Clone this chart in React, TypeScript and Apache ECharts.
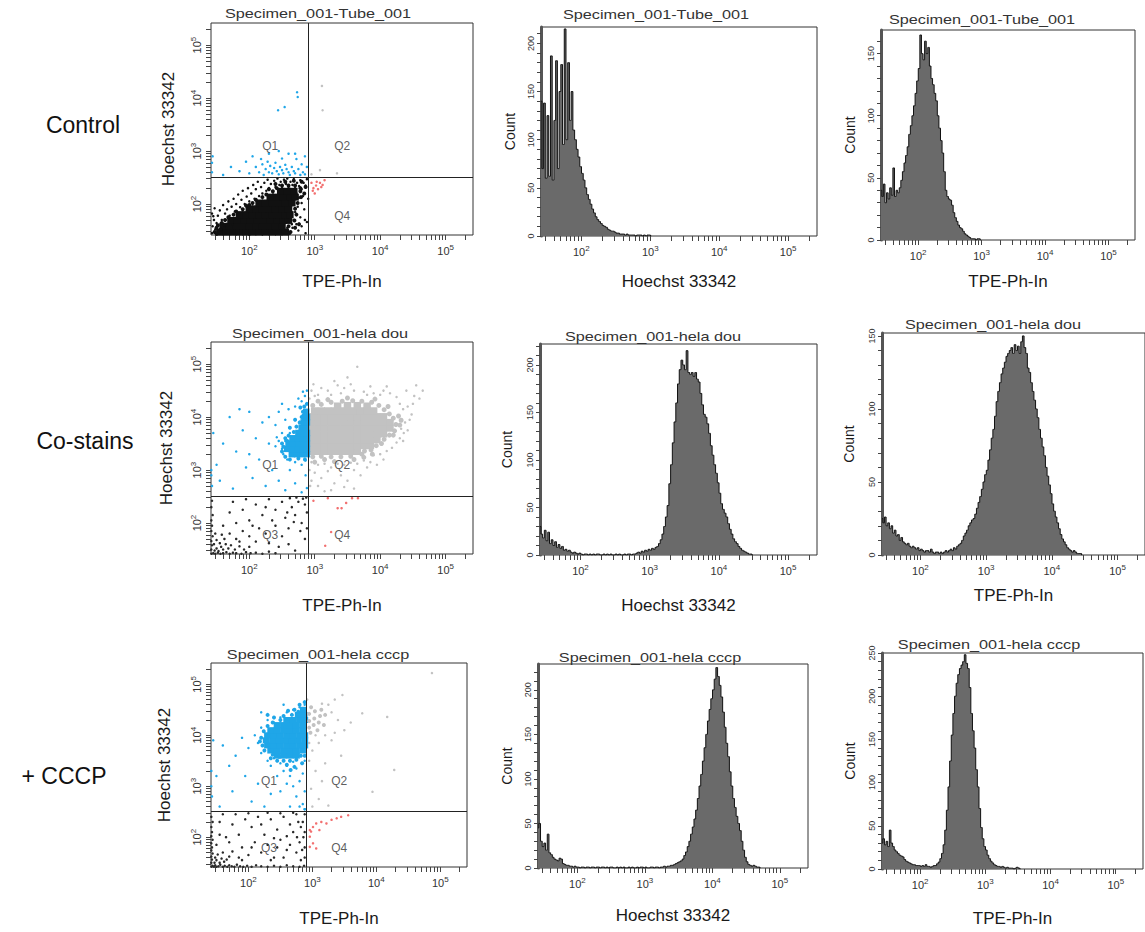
import React, { useEffect, useRef } from 'react';
import * as echarts from 'echarts';

// ---------- axis range (log10 units, FACS 26 .. 262143) ----------
const LOG_MIN = 1.415;
const LOG_MAX = 5.418;
const DECADES = [2, 3, 4, 5];
const MULTS = [1, 2, 3, 4, 5, 6, 7, 8, 9];
const GATE_X = 2.9;
const GATE_Y = 2.51;

const ROW_LABELS = ['Control', 'Co-stains', '+ CCCP'];
const SPECIMENS = ['Specimen_001-Tube_001', 'Specimen_001-hela dou', 'Specimen_001-hela cccp'];
const X_NAMES = ['TPE-Ph-In', 'Hoechst 33342', 'TPE-Ph-In'];
const QUAD_NAMES = ['Q1', 'Q2', 'Q3', 'Q4'];
const QUAD_POS: Record<string, number[]> = { Q1: [2.32, 3.1], Q2: [3.42, 3.1], Q3: [2.32, 1.78], Q4: [3.42, 1.78] };

// ---------- histograms: counts per bin, bins start at log 1.415, width 0.025 decade ----------
const BIN_START = 1.415;
const BIN_STEP = 0.025;

const H_CTRL_HOECHST = [
  140, 70, 138, 60, 125, 62, 187, 58, 120, 182, 70, 150, 178, 95, 215, 100, 180, 120, 150, 110,
  100, 90, 82, 72, 65, 58, 50, 43, 38, 33, 28, 24, 20, 17, 15, 13, 11, 10, 9, 7,
  6, 5, 5, 4, 3, 3, 2, 2, 2, 1, 2, 1, 1, 1, 1, 0, 1, 1, 1, 0, 1, 0, 1, 1, 0,
];
const H_CTRL_TPE = [
  40, 35, 45, 30, 38, 33, 42, 36, 58, 35, 40, 38, 42, 48, 55, 62, 68, 75, 85, 92,
  100, 108, 118, 128, 138, 165, 150, 145, 160, 150, 155, 140, 130, 125, 118, 112, 100, 90, 80, 70,
  55, 40, 35, 33, 32, 28, 22, 18, 15, 12, 10, 9, 7, 5, 4, 3, 2, 1, 1, 1, 0, 1, 1, 0,
];
const H_COSTAIN_HOECHST = [
  30, 22, 18, 26, 15, 24, 12, 16, 10, 14, 8, 11, 7, 9, 5, 6, 4, 5, 3, 2,
  3, 2, 1, 2, 1, 0, 1, 1, 0, 1, 0, 1, 0, 1, 1, 0, 0, 1, 0, 1,
  0, 1, 0, 0, 1, 0, 1, 0, 0, 1, 0, 1, 1, 0, 1, 1, 2, 3, 2, 4,
  3, 5, 4, 6, 5, 7, 6, 8, 9, 12, 16, 22, 30, 40, 52, 75, 95, 118, 140, 160,
  180, 195, 205, 200, 195, 215, 192, 190, 192, 188, 192, 185, 182, 170, 158, 148, 145, 138, 128, 115,
  105, 95, 86, 76, 65, 54, 48, 44, 40, 33, 27, 22, 17, 14, 12, 9, 7, 5, 4, 3, 2, 1, 1, 0,
];
const H_COSTAIN_TPE = [
  25, 22, 26, 20, 22, 18, 20, 15, 17, 13, 14, 10, 12, 9, 8, 7, 8, 6, 5, 6,
  5, 4, 5, 3, 4, 3, 2, 3, 3, 2, 4, 2, 1, 2, 2, 1, 2, 1, 2, 3,
  2, 3, 4, 3, 5, 4, 6, 7, 8, 10, 13, 15, 17, 20, 22, 24, 25, 28, 32, 36,
  40, 45, 50, 55, 58, 65, 72, 80, 86, 95, 105, 112, 118, 124, 128, 132, 136, 138, 140, 142,
  138, 144, 140, 143, 138, 146, 150, 142, 138, 128, 125, 118, 112, 106, 100, 94, 86, 80, 74, 68,
  60, 54, 48, 42, 35, 30, 26, 22, 18, 14, 11, 9, 7, 5, 4, 3, 2, 3, 2, 1, 1, 1, 0,
];
const H_CCCP_HOECHST = [
  45, 50, 30, 24, 28, 20, 38, 17, 15, 12, 10, 9, 8, 11, 10, 5, 4, 3, 3, 2,
  2, 1, 2, 1, 1, 0, 1, 1, 0, 1, 1, 0, 1, 1, 0, 1, 1, 0, 1, 1,
  0, 1, 0, 1, 1, 0, 0, 1, 0, 1, 0, 1, 0, 0, 1, 0, 1, 0, 0, 1,
  0, 1, 1, 0, 1, 0, 0, 1, 1, 0, 1, 1, 0, 1, 1, 2, 1, 2, 2, 3,
  3, 4, 5, 6, 7, 8, 10, 14, 18, 24, 30, 38, 46, 55, 65, 78, 92, 105, 120, 135,
  150, 165, 178, 190, 200, 212, 225, 215, 205, 192, 175, 158, 140, 125, 108, 92, 78, 68, 58, 50,
  42, 30, 20, 12, 7, 4, 3, 2, 3, 2, 1, 1, 0,
];
const H_CCCP_TPE = [
  30, 35, 28, 32, 26, 45, 30, 26, 22, 20, 18, 16, 15, 14, 11, 9, 8, 7, 6, 5,
  5, 4, 4, 4, 3, 4, 3, 5, 3, 3, 2, 3, 4, 4, 6, 8, 12, 18, 28, 45,
  68, 95, 125, 155, 180, 200, 215, 225, 232, 236, 240, 248, 238, 232, 210, 180, 160, 140, 115, 95,
  70, 48, 35, 26, 22, 16, 12, 9, 7, 5, 4, 3, 3, 2, 3, 2, 1, 2, 1, 1, 1, 0, 1, 2, 1, 0,
];

// ---------- dot plots: [log10 TPE-Ph-In, log10 Hoechst 33342] ----------
const CTRL_BLACK_CORE = [
  [1.55, 1.47], [1.65, 1.47], [1.75, 1.47], [1.85, 1.47], [1.95, 1.47], [2.05, 1.47], [2.15, 1.47], [2.25, 1.47], [2.35, 1.47], [2.45, 1.47], [2.55, 1.47],
  [1.6, 1.58], [1.7, 1.58], [1.8, 1.58], [1.9, 1.58], [2.0, 1.58], [2.1, 1.58], [2.2, 1.58], [2.3, 1.58], [2.4, 1.58], [2.5, 1.58],
  [1.72, 1.69], [1.82, 1.69], [1.92, 1.69], [2.02, 1.69], [2.12, 1.69], [2.22, 1.69], [2.32, 1.69], [2.42, 1.69], [2.52, 1.69], [2.6, 1.69],
  [1.85, 1.8], [1.95, 1.8], [2.05, 1.8], [2.15, 1.8], [2.25, 1.8], [2.35, 1.8], [2.45, 1.8], [2.55, 1.8], [2.62, 1.8],
  [2.0, 1.91], [2.1, 1.91], [2.2, 1.91], [2.3, 1.91], [2.4, 1.91], [2.5, 1.91], [2.6, 1.91],
  [2.15, 2.02], [2.25, 2.02], [2.35, 2.02], [2.45, 2.02], [2.55, 2.02], [2.65, 2.02],
  [2.32, 2.13], [2.42, 2.13], [2.52, 2.13], [2.62, 2.13], [2.7, 2.13],
  [2.48, 2.24], [2.58, 2.24], [2.68, 2.24],
];
const CTRL_BLACK_HALO = [
  [1.47, 1.47], [1.5, 1.55], [1.52, 1.6], [1.58, 1.64], [1.63, 1.7], [1.68, 1.75], [1.76, 1.8], [1.8, 1.86], [1.9, 1.9], [1.95, 1.97],
  [2.05, 2.02], [2.1, 2.08], [2.2, 2.13], [2.26, 2.18], [2.36, 2.24], [2.42, 2.3], [2.5, 2.35], [2.6, 2.35], [2.7, 2.35], [2.78, 2.3],
  [2.55, 2.42], [2.68, 2.44], [2.8, 2.42], [2.63, 1.47], [2.6, 1.58], [2.69, 1.69], [2.72, 1.8], [2.7, 1.91], [2.74, 2.02], [2.79, 2.13],
  [2.78, 2.24], [2.7, 1.55], [2.76, 1.62], [2.84, 2.2], [2.86, 2.32], [1.5, 1.44], [1.56, 1.52], [2.4, 2.38], [2.3, 2.28], [2.0, 1.98],
];
const CTRL_BLACK = [
  [1.43, 1.45], [1.44, 1.58], [1.46, 1.7], [1.43, 1.82], [1.48, 1.52], [1.5, 1.64], [1.52, 1.78], [1.47, 1.92], [1.55, 1.88], [1.58, 1.7],
  [1.6, 1.98], [1.63, 1.82], [1.66, 1.9], [1.68, 2.05], [1.7, 1.78], [1.73, 1.95], [1.76, 2.1], [1.78, 1.86], [1.8, 2.0], [1.83, 2.18],
  [1.86, 1.94], [1.88, 2.08], [1.9, 2.25], [1.93, 2.0], [1.96, 2.14], [1.98, 2.3], [2.0, 2.05], [2.03, 2.2], [2.06, 2.36], [2.08, 2.1],
  [2.1, 2.28], [2.13, 2.42], [2.15, 2.15], [2.18, 2.32], [2.2, 2.2], [2.23, 2.4], [2.26, 2.25], [2.28, 2.46], [2.3, 2.3], [2.33, 2.38],
  [2.36, 2.22], [2.38, 2.44], [2.4, 2.32], [2.43, 2.48], [2.46, 2.36], [2.48, 2.42], [2.5, 2.3], [2.53, 2.46], [2.56, 2.38], [2.58, 2.48],
  [2.6, 2.32], [2.63, 2.42], [2.66, 2.36], [2.68, 2.47], [2.7, 2.3], [2.73, 2.4], [2.76, 2.34], [2.78, 2.45], [2.8, 2.28], [2.83, 2.4],
  [2.86, 2.35], [2.88, 2.47], [2.72, 2.2], [2.76, 2.12], [2.8, 2.02], [2.74, 1.95], [2.7, 1.85], [2.78, 1.75], [2.68, 1.7], [2.72, 1.62],
  [2.66, 1.55], [2.75, 1.5], [2.62, 1.44], [2.8, 1.58], [2.86, 1.45], [2.88, 1.66], [2.84, 1.9], [2.82, 2.15], [2.65, 1.62], [2.58, 1.55],
  [1.5, 1.43], [1.62, 1.6], [1.57, 1.52], [1.45, 1.77], [1.74, 1.62], [2.0, 1.42], [2.2, 1.43], [2.6, 1.43], [2.9, 2.1], [2.85, 1.7],
];
const CTRL_BLUE = [
  [1.43, 2.6], [1.43, 2.78], [1.44, 2.9], [1.6, 2.55], [1.72, 2.7], [1.85, 2.62], [1.95, 2.8], [2.0, 2.58], [2.05, 2.9], [2.1, 2.7],
  [2.15, 2.6], [2.18, 2.85], [2.2, 2.75], [2.22, 2.55], [2.25, 2.66], [2.28, 2.8], [2.3, 2.6], [2.32, 2.72], [2.35, 2.58], [2.38, 2.68],
  [2.4, 2.78], [2.42, 2.62], [2.45, 2.56], [2.47, 2.7], [2.5, 2.64], [2.52, 2.58], [2.55, 2.74], [2.57, 2.66], [2.6, 2.6], [2.62, 2.55],
  [2.65, 2.7], [2.68, 2.62], [2.7, 2.58], [2.72, 2.85], [2.75, 2.66], [2.78, 2.55], [2.8, 2.75], [2.82, 2.6], [2.85, 2.56], [2.6, 2.95],
  [2.45, 3.0], [2.3, 2.95], [2.85, 2.9], [2.7, 2.95], [2.54, 3.83], [2.44, 3.77], [2.73, 4.11], [2.74, 4.02], [2.88, 2.7], [2.5, 2.86],
];
const CTRL_RED = [
  [2.95, 2.4], [2.98, 2.3], [3.0, 2.2], [3.02, 2.35], [3.05, 2.28], [3.08, 2.4], [3.1, 2.32], [3.15, 2.45], [2.97, 2.25], [3.03, 2.42], [3.12, 2.36],
];
const CTRL_GRAY = [[3.11, 4.23], [3.12, 3.77], [3.08, 2.64], [3.34, 2.58], [2.95, 2.56]];

const COSTAIN_GRAY_CORE = [
  [2.95, 3.35], [3.05, 3.35], [3.15, 3.35], [3.25, 3.35], [3.35, 3.35], [3.45, 3.35], [3.55, 3.35], [3.65, 3.35],
  [2.95, 3.46], [3.05, 3.46], [3.15, 3.46], [3.25, 3.46], [3.35, 3.46], [3.45, 3.46], [3.55, 3.46], [3.65, 3.46], [3.75, 3.46], [3.85, 3.46],
  [2.95, 3.57], [3.05, 3.57], [3.15, 3.57], [3.25, 3.57], [3.35, 3.57], [3.45, 3.57], [3.55, 3.57], [3.65, 3.57], [3.75, 3.57], [3.85, 3.57], [3.95, 3.57],
  [2.95, 3.68], [3.05, 3.68], [3.15, 3.68], [3.25, 3.68], [3.35, 3.68], [3.45, 3.68], [3.55, 3.68], [3.65, 3.68], [3.75, 3.68], [3.85, 3.68], [3.95, 3.68], [4.05, 3.68],
  [2.95, 3.79], [3.05, 3.79], [3.15, 3.79], [3.25, 3.79], [3.35, 3.79], [3.45, 3.79], [3.55, 3.79], [3.65, 3.79], [3.75, 3.79], [3.85, 3.79], [3.95, 3.79], [4.05, 3.79], [4.15, 3.79],
  [2.95, 3.9], [3.05, 3.9], [3.15, 3.9], [3.25, 3.9], [3.35, 3.9], [3.45, 3.9], [3.55, 3.9], [3.65, 3.9], [3.75, 3.9], [3.85, 3.9], [3.95, 3.9], [4.05, 3.9], [4.15, 3.9],
  [2.95, 4.01], [3.05, 4.01], [3.15, 4.01], [3.25, 4.01], [3.35, 4.01], [3.45, 4.01], [3.55, 4.01], [3.65, 4.01], [3.75, 4.01], [3.85, 4.01], [3.95, 4.01], [4.05, 4.01],
  [3.0, 4.12], [3.1, 4.12], [3.2, 4.12], [3.3, 4.12], [3.4, 4.12], [3.5, 4.12], [3.6, 4.12], [3.7, 4.12], [3.8, 4.12], [3.9, 4.12],
  [3.35, 4.21], [3.5, 4.22], [3.65, 4.22], [3.8, 4.21],
];
const COSTAIN_GRAY_HALO = [
  [2.97, 4.22], [3.1, 4.24], [3.25, 4.28], [3.42, 4.3], [3.58, 4.31], [3.72, 4.3], [3.87, 4.28], [3.98, 4.22], [4.06, 4.14], [4.14, 4.06],
  [4.2, 3.98], [4.24, 3.86], [4.22, 3.74], [4.14, 3.66], [4.06, 3.58], [4.02, 3.5], [3.94, 3.46], [3.86, 3.38], [3.76, 3.36], [3.72, 3.3],
  [3.55, 3.26], [3.4, 3.25], [3.25, 3.25], [3.1, 3.26], [2.97, 3.25], [3.0, 3.15], [3.3, 3.16], [3.6, 3.2], [3.88, 3.3], [4.3, 3.85],
  [4.28, 4.02], [3.5, 4.36], [3.2, 4.33], [3.05, 4.3], [4.32, 3.94], [3.92, 4.34], [3.15, 3.2], [3.75, 3.24], [4.2, 3.66], [4.12, 4.2],
];
const COSTAIN_GRAY = [
  [3.05, 4.42], [3.2, 4.5], [3.35, 4.6], [3.5, 4.75], [3.65, 4.95], [3.4, 4.45], [3.6, 4.5], [3.8, 4.42], [3.1, 4.55], [3.25, 4.42],
  [3.9, 4.45], [4.0, 4.42], [4.15, 4.45], [4.25, 4.38], [4.4, 4.5], [4.55, 4.6], [3.0, 4.4], [3.45, 4.55], [3.75, 4.48], [4.05, 4.5],
  [4.3, 4.25], [4.35, 4.15], [4.38, 3.9], [4.32, 3.78], [4.42, 4.2], [4.45, 3.95], [4.3, 3.6], [4.36, 3.7], [4.25, 3.52], [4.18, 3.42],
  [4.5, 4.25], [4.6, 4.35], [4.1, 3.36], [4.0, 3.3], [3.9, 3.28],
  [2.95, 3.15], [3.05, 3.1], [3.15, 3.12], [3.25, 3.05], [3.35, 3.12], [3.45, 3.1], [3.55, 3.14], [3.65, 3.12], [3.75, 3.18], [3.85, 3.15],
  [3.0, 2.95], [3.1, 2.85], [3.2, 2.98], [3.3, 2.75], [3.4, 2.9], [3.5, 2.8], [3.6, 3.0], [3.7, 2.9], [3.8, 3.05], [3.95, 3.1],
  [3.05, 2.7], [3.25, 2.62], [3.45, 2.68], [3.15, 2.6], [2.95, 2.8], [3.6, 2.65], [4.05, 3.2],
  [2.92, 3.0], [2.93, 2.7], [2.92, 4.35], [2.95, 4.5],
  [4.48, 4.05], [4.52, 4.4], [4.42, 3.75], [4.35, 3.55], [3.3, 4.68], [3.55, 4.62], [3.85, 4.58], [4.1, 4.58], [2.98, 4.62], [4.65, 4.5],
];
const COSTAIN_BLUE_CORE = [
  [2.65, 3.3], [2.73, 3.3], [2.81, 3.3], [2.88, 3.3],
  [2.58, 3.4], [2.66, 3.4], [2.74, 3.4], [2.82, 3.4], [2.88, 3.4],
  [2.6, 3.5], [2.68, 3.5], [2.76, 3.5], [2.84, 3.5], [2.88, 3.5],
  [2.66, 3.6], [2.74, 3.6], [2.82, 3.6], [2.88, 3.6],
  [2.75, 3.7], [2.82, 3.7], [2.88, 3.7],
  [2.8, 3.8], [2.87, 3.8], [2.83, 3.9], [2.88, 3.9], [2.85, 4.0], [2.88, 4.0], [2.87, 4.1],
];
const COSTAIN_BLUE_HALO = [
  [2.55, 3.25], [2.62, 3.2], [2.75, 3.22], [2.85, 3.2], [2.5, 3.35], [2.5, 3.5], [2.55, 3.6], [2.6, 3.65], [2.68, 3.72], [2.72, 3.82],
  [2.77, 3.9], [2.8, 4.0], [2.82, 4.1], [2.84, 4.2], [2.88, 4.25], [2.78, 4.18], [2.7, 3.95], [2.62, 3.8], [2.52, 3.44], [2.58, 3.55],
];
const COSTAIN_BLUE = [
  [2.7, 4.2], [2.8, 4.3], [2.85, 4.4], [2.75, 4.35], [2.6, 4.15], [2.5, 4.25], [2.45, 4.1], [2.88, 4.5], [2.82, 4.48], [2.55, 3.95],
  [2.5, 3.7], [2.45, 3.55], [2.4, 3.45], [2.52, 3.3], [2.58, 3.2], [2.7, 3.15], [2.8, 3.1], [2.86, 3.18], [2.5, 3.4], [2.42, 3.62],
  [2.3, 3.5], [2.2, 3.9], [2.1, 3.6], [2.0, 4.1], [1.9, 3.75], [1.8, 3.35], [1.7, 4.0], [1.6, 3.5], [1.5, 3.1], [1.45, 3.7],
  [1.42, 2.9], [1.42, 3.0], [1.43, 2.7], [1.55, 2.8], [1.75, 2.65], [1.95, 3.05], [2.05, 2.85], [2.15, 3.2], [2.25, 2.7], [2.35, 3.0],
  [2.45, 2.8], [2.55, 2.62], [2.62, 3.0], [2.7, 2.75], [2.8, 2.58], [2.86, 2.9], [2.88, 2.66], [2.3, 4.0], [2.0, 3.3], [1.85, 4.15],
  [2.62, 3.7], [2.4, 3.85], [2.55, 3.55],
];
const COSTAIN_BLACK = [
  [1.42, 1.42], [1.45, 1.43], [1.48, 1.42], [1.52, 1.44], [1.56, 1.42], [1.6, 1.43], [1.65, 1.45], [1.7, 1.42], [1.75, 1.44], [1.8, 1.43],
  [1.88, 1.42], [1.95, 1.45], [2.02, 1.43], [2.1, 1.44], [2.2, 1.42], [2.3, 1.46], [2.4, 1.43],
  [1.42, 1.5], [1.43, 1.58], [1.42, 1.66], [1.44, 1.75], [1.42, 1.85], [1.43, 1.95], [1.42, 2.05], [1.44, 2.15], [1.42, 2.3], [1.43, 2.42],
  [1.47, 1.48], [1.5, 1.52], [1.53, 1.47], [1.57, 1.55], [1.6, 1.5], [1.64, 1.6], [1.68, 1.52], [1.72, 1.58], [1.46, 1.6], [1.5, 1.68],
  [1.55, 1.62], [1.62, 1.7], [1.78, 1.5], [1.85, 1.56], [1.92, 1.5], [2.0, 1.55], [1.48, 1.8], [1.58, 1.78],
  [1.7, 1.8], [1.8, 1.7], [1.9, 1.85], [2.0, 1.75], [2.1, 1.65], [2.15, 1.9], [2.25, 1.8], [2.3, 1.62], [2.4, 1.95], [2.5, 1.75],
  [2.55, 2.1], [2.6, 1.9], [2.65, 2.3], [2.7, 2.15], [2.75, 2.4], [2.8, 2.0], [2.85, 2.35], [2.88, 2.2], [2.5, 2.4], [2.4, 2.25],
  [2.3, 2.45], [2.2, 2.15], [2.1, 2.35], [2.0, 2.05], [1.9, 2.25], [1.8, 2.0], [1.7, 2.2], [1.6, 1.95], [1.75, 2.4], [1.95, 2.45],
  [2.62, 2.47], [2.72, 2.48], [2.82, 2.46], [2.87, 2.48], [2.45, 1.55], [2.6, 1.6], [2.7, 1.48], [2.85, 1.7], [2.78, 1.85], [2.35, 2.05],
  [2.25, 2.3], [2.05, 1.95], [1.85, 1.65], [2.58, 2.2], [2.68, 2.02], [2.88, 1.9],
];
const COSTAIN_RED = [[3.2, 2.47], [3.35, 2.28], [3.41, 2.28], [3.57, 2.47], [3.66, 2.47], [3.25, 1.83], [3.16, 1.57], [2.98, 2.42], [3.48, 2.38]];

const CCCP_BLUE_CORE = [
  [2.45, 3.6], [2.55, 3.6], [2.65, 3.6], [2.75, 3.6],
  [2.35, 3.7], [2.45, 3.7], [2.55, 3.7], [2.65, 3.7], [2.75, 3.7], [2.85, 3.7],
  [2.3, 3.8], [2.4, 3.8], [2.5, 3.8], [2.6, 3.8], [2.7, 3.8], [2.8, 3.8], [2.88, 3.8],
  [2.28, 3.9], [2.38, 3.9], [2.48, 3.9], [2.58, 3.9], [2.68, 3.9], [2.78, 3.9], [2.88, 3.9],
  [2.3, 4.0], [2.4, 4.0], [2.5, 4.0], [2.6, 4.0], [2.7, 4.0], [2.8, 4.0], [2.88, 4.0],
  [2.35, 4.1], [2.45, 4.1], [2.55, 4.1], [2.65, 4.1], [2.75, 4.1], [2.85, 4.1],
  [2.45, 4.2], [2.55, 4.2], [2.65, 4.2], [2.75, 4.2], [2.85, 4.2],
  [2.6, 4.3], [2.7, 4.3], [2.8, 4.3], [2.88, 4.3], [2.78, 4.4], [2.87, 4.4], [2.86, 4.5],
];
const CCCP_BLUE_HALO = [
  [2.22, 3.8], [2.2, 3.95], [2.24, 4.08], [2.3, 4.18], [2.38, 4.25], [2.5, 4.3], [2.55, 4.38], [2.68, 4.4], [2.72, 4.5], [2.8, 4.6],
  [2.88, 4.65], [2.38, 3.62], [2.35, 3.55], [2.45, 3.5], [2.55, 3.5], [2.65, 3.5], [2.75, 3.52], [2.82, 3.6], [2.88, 3.6], [2.6, 3.42],
  [2.72, 3.38], [2.48, 3.58], [2.25, 3.7], [2.3, 4.4], [2.4, 4.35], [2.84, 3.45], [2.66, 3.32], [2.78, 4.46], [2.18, 3.88], [2.62, 4.48],
];
const CCCP_BLUE = [
  [2.5, 3.45], [2.6, 3.4], [2.7, 3.48], [2.55, 3.3], [2.65, 3.2], [2.75, 3.35], [2.8, 3.1], [2.7, 3.0], [2.85, 3.25], [2.6, 3.05],
  [2.88, 2.9], [2.75, 2.8], [2.85, 2.65], [2.88, 2.55], [2.5, 2.9], [2.45, 3.2], [2.4, 3.55], [2.3, 3.5], [2.35, 3.4], [2.2, 3.65],
  [2.15, 3.85], [2.1, 4.0], [2.2, 4.15], [2.0, 3.75], [1.9, 3.95], [1.8, 3.6], [1.7, 3.4], [1.6, 3.8], [1.5, 3.2], [1.45, 3.9],
  [1.42, 3.0], [1.42, 3.3], [1.43, 2.8], [1.55, 2.6], [1.75, 2.9], [1.95, 3.2], [2.05, 2.7], [2.15, 3.05], [2.25, 2.6], [2.35, 2.85],
  [2.5, 4.35], [2.4, 4.25], [2.6, 4.45], [2.7, 4.5], [2.8, 4.55], [2.88, 4.6], [2.3, 4.3], [2.2, 4.45], [2.55, 4.6], [2.88, 3.5],
  [2.88, 2.55], [2.8, 2.6], [2.65, 2.6],
];
const CCCP_GRAY_CORE = [
  [2.95, 4.15], [3.02, 4.2], [3.1, 4.25], [2.95, 4.28], [3.03, 4.33], [3.12, 4.38], [2.95, 4.42], [3.04, 4.47], [3.14, 4.5], [2.98, 4.55],
  [3.2, 4.4], [3.08, 4.1], [2.97, 4.05], [3.18, 4.2],
];
const CCCP_GRAY = [
  [3.25, 4.6], [3.35, 4.7], [3.47, 4.79], [3.3, 4.45], [3.4, 4.3], [3.2, 4.0], [3.3, 3.9], [3.1, 3.85], [3.0, 3.7], [2.95, 3.5],
  [3.05, 3.3], [3.15, 3.1], [2.98, 2.95], [3.1, 2.75], [3.25, 2.62], [3.0, 2.6], [3.78, 4.43], [4.17, 4.36], [4.28, 3.32], [3.94, 2.89],
  [4.87, 5.22], [3.5, 4.1], [3.6, 4.25], [3.15, 4.62], [2.95, 3.85], [3.45, 3.6], [3.2, 3.45], [2.92, 4.7], [3.05, 4.0], [3.35, 4.05],
];
const CCCP_BLACK = [
  [1.42, 1.42], [1.44, 1.44], [1.46, 1.42], [1.48, 1.45], [1.5, 1.42], [1.53, 1.43], [1.56, 1.46], [1.6, 1.42], [1.63, 1.44], [1.67, 1.42],
  [1.7, 1.45], [1.74, 1.43], [1.78, 1.42], [1.82, 1.46], [1.87, 1.43], [1.92, 1.42], [1.98, 1.44], [2.05, 1.42], [2.12, 1.45], [2.2, 1.43],
  [2.3, 1.42], [2.4, 1.44], [2.5, 1.42], [2.6, 1.45], [2.7, 1.43], [2.8, 1.42], [2.87, 1.44],
  [1.42, 1.5], [1.43, 1.56], [1.42, 1.62], [1.44, 1.68], [1.42, 1.74], [1.43, 1.8], [1.42, 1.88], [1.44, 1.95], [1.42, 2.02], [1.43, 2.1],
  [1.42, 2.2], [1.44, 2.3], [1.42, 2.4],
  [1.47, 1.5], [1.5, 1.55], [1.55, 1.5], [1.48, 1.6], [1.58, 1.58], [1.62, 1.52], [1.52, 1.66], [1.66, 1.56], [1.7, 1.62], [1.6, 1.7],
  [1.75, 1.72], [1.85, 1.6], [1.9, 1.8], [2.0, 1.65], [2.1, 1.9], [2.2, 1.7], [2.3, 1.85], [2.4, 1.6], [2.5, 1.95], [2.6, 1.75],
  [2.7, 2.1], [2.8, 1.9], [2.85, 2.3], [2.75, 2.45], [2.65, 2.25], [2.55, 2.4], [2.45, 2.15], [2.35, 2.35], [2.25, 2.05], [2.15, 2.4],
  [2.05, 2.2], [1.95, 2.35], [1.85, 2.05], [1.75, 2.25], [1.65, 2.0], [1.55, 2.3], [1.6, 2.45], [1.8, 2.45], [2.0, 2.47], [2.3, 2.48],
  [2.5, 2.47], [2.7, 2.48], [2.88, 2.45], [2.88, 2.1], [2.88, 1.8], [2.88, 1.6], [2.82, 1.55], [2.6, 2.02], [2.4, 1.98], [2.2, 2.25],
  [1.9, 1.55], [2.35, 1.55], [2.75, 1.7], [2.55, 1.6], [2.65, 1.85], [2.45, 1.8], [2.05, 1.8], [1.7, 1.9], [1.5, 1.85], [1.55, 2.05],
  [2.82, 2.2], [2.86, 2.0], [2.78, 2.3], [2.84, 1.75], [2.76, 2.0],
];
const CCCP_RED = [
  [2.96, 2.14], [3.01, 2.2], [3.06, 2.27], [3.14, 2.3], [3.22, 2.27], [3.3, 2.34], [3.38, 2.37], [3.45, 2.4], [3.56, 2.43],
  [2.96, 2.01], [3.01, 1.88], [2.96, 1.81], [3.06, 1.78], [2.98, 2.11], [3.11, 2.14],
];

const HIST_Y_LABELS_A = [0, 50, 100, 150, 200];
const HIST_Y_LABELS_B = [0, 50, 100, 150];
const HIST_Y_LABELS_C = [0, 50, 100, 150, 200, 250];

// ---------- styling ----------
const FONT = '"Liberation Sans", Arial, Helvetica, sans-serif';
const BLACK = '#111111';
const BLUE = '#1fa6e8';
const GRAY = '#c2c2c2';
const RED = '#f27070';
const Q3_BLACK = '#2a2a2a';

type Pop = { d: number[][]; c: string; s: number | number[]; sym?: string };
type Panel = {
  kind: 'scatter' | 'hist';
  left: number; top: number; width: number; height: number;
  xName: string; xGap: number; yGap: number;
  title: string; tx: number; ty: number;
  pops?: Pop[]; quads?: string[];
  bins?: number[]; yMax?: number; yLabels?: number[];
};

const PANELS: Panel[] = [
  { kind: 'scatter', left: 211, top: 23, width: 262, height: 212, xName: X_NAMES[0], xGap: 38, yGap: 34, title: SPECIMENS[0], tx: 318, ty: 14,
    pops: [
      { d: CTRL_BLACK_CORE, c: BLACK, s: [7.5, 7], sym: 'rect' }, { d: CTRL_BLACK_HALO, c: BLACK, s: 4 },
      { d: CTRL_BLACK, c: BLACK, s: 2.5 }, { d: CTRL_BLUE, c: BLUE, s: 2.5 },
      { d: CTRL_RED, c: RED, s: 2.5 }, { d: CTRL_GRAY, c: GRAY, s: 2.5 },
    ], quads: ['Q1', 'Q2', 'Q4'] },
  { kind: 'hist', left: 541, top: 27, width: 276, height: 209, xName: X_NAMES[1], xGap: 37, yGap: 24, title: SPECIMENS[0], tx: 656, ty: 15,
    bins: H_CTRL_HOECHST, yMax: 217, yLabels: HIST_Y_LABELS_A },
  { kind: 'hist', left: 881, top: 30, width: 254, height: 210, xName: X_NAMES[2], xGap: 33, yGap: 24, title: SPECIMENS[0], tx: 982, ty: 20,
    bins: H_CTRL_TPE, yMax: 169, yLabels: HIST_Y_LABELS_B },

  { kind: 'scatter', left: 211, top: 342, width: 262, height: 212, xName: X_NAMES[0], xGap: 43, yGap: 36, title: SPECIMENS[1], tx: 320, ty: 334,
    pops: [
      { d: COSTAIN_GRAY_CORE, c: GRAY, s: [7.5, 7], sym: 'rect' }, { d: COSTAIN_GRAY_HALO, c: GRAY, s: 5 },
      { d: COSTAIN_GRAY, c: GRAY, s: 2.5 }, { d: COSTAIN_BLUE_CORE, c: BLUE, s: [6.5, 6.5], sym: 'rect' },
      { d: COSTAIN_BLUE_HALO, c: BLUE, s: 4 }, { d: COSTAIN_BLUE, c: BLUE, s: 2.5 },
      { d: COSTAIN_BLACK, c: Q3_BLACK, s: 2.5 }, { d: COSTAIN_RED, c: RED, s: 2.5 },
    ], quads: QUAD_NAMES },
  { kind: 'hist', left: 540, top: 344, width: 277, height: 211, xName: X_NAMES[1], xGap: 42, yGap: 26, title: SPECIMENS[1], tx: 653, ty: 337,
    bins: H_COSTAIN_HOECHST, yMax: 222, yLabels: HIST_Y_LABELS_A },
  { kind: 'hist', left: 882, top: 333, width: 270, height: 222, xName: X_NAMES[2], xGap: 32, yGap: 26, title: SPECIMENS[1], tx: 993, ty: 325,
    bins: H_COSTAIN_TPE, yMax: 152, yLabels: HIST_Y_LABELS_B },

  { kind: 'scatter', left: 211, top: 663, width: 256, height: 204, xName: X_NAMES[0], xGap: 43, yGap: 38, title: SPECIMENS[2], tx: 318, ty: 655,
    pops: [
      { d: CCCP_BLUE_CORE, c: BLUE, s: [7, 6], sym: 'rect' }, { d: CCCP_BLUE_HALO, c: BLUE, s: 4 },
      { d: CCCP_BLUE, c: BLUE, s: 2.5 }, { d: CCCP_GRAY_CORE, c: GRAY, s: 4 },
      { d: CCCP_GRAY, c: GRAY, s: 2.5 }, { d: CCCP_BLACK, c: Q3_BLACK, s: 2.5 }, { d: CCCP_RED, c: RED, s: 2.5 },
    ], quads: QUAD_NAMES },
  { kind: 'hist', left: 538, top: 664, width: 270, height: 204, xName: X_NAMES[1], xGap: 39, yGap: 24, title: SPECIMENS[2], tx: 650, ty: 658,
    bins: H_CCCP_HOECHST, yMax: 229, yLabels: HIST_Y_LABELS_A },
  { kind: 'hist', left: 882, top: 653, width: 261, height: 216, xName: X_NAMES[2], xGap: 41, yGap: 25, title: SPECIMENS[2], tx: 989, ty: 645,
    bins: H_CCCP_TPE, yMax: 250, yLabels: HIST_Y_LABELS_C },
];

const ROW_LABEL_POS = [[83, 125], [85, 441], [64, 776]];

// log-axis tick positions (decoration): m * 10^d inside the axis range
const LOG_TICKS: number[] = [];
[1, 2, 3, 4, 5].forEach((d) => MULTS.forEach((m) => {
  const v = d + Math.log10(m);
  if (v >= LOG_MIN - 1e-9 && v <= LOG_MAX + 1e-9) LOG_TICKS.push(v);
}));

const countTicks = (max: number) => {
  const t: number[] = [];
  for (let v = 0; v <= max; v += 10) t.push(v);
  return t;
};

const supRich = {
  n: { fontSize: 11, color: '#333', fontFamily: FONT },
  s: { fontSize: 8, color: '#333', fontFamily: FONT, padding: [0, 0, 7, 0] },
};
const supLabel = (v: number) => `{n|10}{s|${Math.round(v)}}`;

function buildOption() {
  const grid: any[] = [];
  const xAxis: any[] = [];
  const yAxis: any[] = [];
  const series: any[] = [];
  const graphic: any[] = [];

  PANELS.forEach((p, i) => {
    grid.push({
      left: p.left, top: p.top, width: p.width, height: p.height,
      show: true, borderColor: '#333', borderWidth: 1, backgroundColor: '#ffffff',
    });
    xAxis.push({
      type: 'value', gridIndex: i, min: LOG_MIN, max: LOG_MAX,
      name: p.xName, nameLocation: 'middle', nameGap: p.xGap,
      nameTextStyle: { fontSize: 17, color: '#1a1a1a', fontFamily: FONT },
      axisLine: { show: false, onZero: false },
      splitLine: { show: false },
      axisTick: { show: true, customValues: LOG_TICKS, length: 5, lineStyle: { color: '#444', width: 1 } },
      axisLabel: { show: true, customValues: DECADES, formatter: supLabel, rich: supRich, margin: 8 },
    });
    if (p.kind === 'scatter') {
      yAxis.push({
        type: 'value', gridIndex: i, min: LOG_MIN, max: LOG_MAX,
        name: 'Hoechst 33342', nameLocation: 'middle', nameGap: p.yGap,
        nameTextStyle: { fontSize: 17, color: '#1a1a1a', fontFamily: FONT },
        axisLine: { show: false, onZero: false },
        splitLine: { show: false },
        axisTick: { show: true, customValues: LOG_TICKS, length: 5, lineStyle: { color: '#444', width: 1 } },
        axisLabel: { show: true, customValues: DECADES, formatter: supLabel, rich: supRich, rotate: 90, margin: 7 },
      });
      (p.pops || []).forEach((pop) => {
        series.push({
          type: 'scatter', xAxisIndex: i, yAxisIndex: i, data: pop.d,
          symbol: pop.sym || 'circle', symbolSize: pop.s, itemStyle: { color: pop.c, opacity: 1 },
          silent: true, animation: false,
        });
      });
      series.push({
        type: 'scatter', xAxisIndex: i, yAxisIndex: i, z: 10, silent: true, animation: false,
        symbolSize: 0, itemStyle: { color: 'transparent' },
        data: (p.quads || []).map((q) => ({ name: q, value: QUAD_POS[q] })),
        label: { show: true, position: 'inside', formatter: '{b}', fontSize: 12, color: '#333', fontFamily: FONT },
        markLine: {
          silent: true, symbol: 'none', animation: false,
          label: { show: false },
          lineStyle: { color: '#222', width: 1, type: 'solid' },
          data: [{ xAxis: GATE_X }, { yAxis: GATE_Y }],
        },
      });
    } else {
      yAxis.push({
        type: 'value', gridIndex: i, min: 0, max: p.yMax,
        name: 'Count', nameLocation: 'middle', nameGap: p.yGap,
        nameTextStyle: { fontSize: 14, color: '#1a1a1a', fontFamily: FONT },
        axisLine: { show: true, onZero: false, lineStyle: { color: '#555', width: 3 } },
        splitLine: { show: false },
        axisTick: { show: true, customValues: countTicks(p.yMax || 0), length: 4, lineStyle: { color: '#444', width: 1 } },
        axisLabel: { show: true, customValues: p.yLabels, rotate: 90, fontSize: 9, color: '#333', fontFamily: FONT, margin: 6 },
      });
      series.push({
        type: 'line', xAxisIndex: i, yAxisIndex: i, step: 'middle', symbol: 'none', silent: true, animation: false,
        data: (p.bins || []).map((c, k) => [BIN_START + k * BIN_STEP, c]),
        lineStyle: { color: '#111', width: 1 },
        areaStyle: { color: '#6a6a6a', opacity: 1 },
      });
    }
    graphic.push({
      type: 'text', x: p.tx, y: p.ty, scaleX: 1.25, silent: true,
      style: {
        text: p.title, font: `13px ${FONT}`, fill: '#333',
        align: 'center', verticalAlign: 'middle', textAlign: 'center', textVerticalAlign: 'middle',
      },
    });
  });

  ROW_LABELS.forEach((t, r) => {
    graphic.push({
      type: 'text', x: ROW_LABEL_POS[r][0], y: ROW_LABEL_POS[r][1], silent: true,
      style: {
        text: t, font: `23px ${FONT}`, fill: '#111',
        align: 'center', verticalAlign: 'middle', textAlign: 'center', textVerticalAlign: 'middle',
      },
    });
  });

  return {
    animation: false,
    backgroundColor: '#ffffff',
    textStyle: { fontFamily: FONT },
    grid, xAxis, yAxis, series, graphic,
  };
}

export default function App() {
  const ref = useRef<HTMLDivElement>(null);
  useEffect(() => {
    if (!ref.current) return;
    const chart = echarts.init(ref.current, undefined, { renderer: 'svg' });
    chart.setOption(buildOption() as any);
    return () => chart.dispose();
  }, []);
  return (
    <div
      ref={ref}
      style={{ position: 'absolute', left: 0, top: 0, width: 1145, height: 932, background: '#fff' }}
    />
  );
}
